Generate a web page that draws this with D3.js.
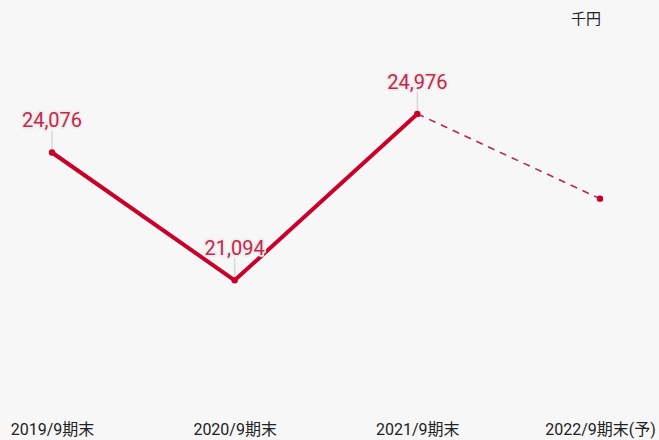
<!DOCTYPE html>
<html>
<head>
<meta charset="utf-8">
<script src="https://cdn.jsdelivr.net/npm/d3@7"></script>
<style>
  html, body { margin: 0; padding: 0; background: #f7f7f7; }
  svg { display: block; }
  text { font-family: Roboto, "Noto Sans CJK JP", sans-serif; }
</style>
</head>
<body>
<div id="chart"></div>
<script>
// Net assets by fiscal period end (thousand yen); last period is a forecast
const categories = ["2019/9期末", "2020/9期末", "2021/9期末", "2022/9期末(予)"];
const values = [24076, 21094, 24976, 23000];
const labelled = [true, true, true, false];
const unitLabel = "千円";

const width = 659, height = 440;
const svg = d3.select("#chart").append("svg")
  .attr("width", width).attr("height", height);

svg.append("rect").attr("width", width).attr("height", height).attr("fill", "#f7f7f7");

const x = d3.scalePoint().domain(categories).range([52, 600]);
const y = d3.scaleLinear().domain([18000, 26000]).range([413, 70]);

const pts = categories.map((c, i) => ({ c, v: values[i], lab: labelled[i] }));
const actual = pts.slice(0, 3);
const forecast = pts.slice(2);

const line = d3.line().x(d => x(d.c)).y(d => y(d.v));

// leader lines from labels to points
const leaders = pts.filter(d => d.lab);
svg.selectAll(".leader").data(leaders).enter().append("line")
  .attr("x1", d => x(d.c)).attr("x2", d => x(d.c))
  .attr("y1", d => y(d.v) - 22).attr("y2", d => y(d.v))
  .attr("stroke", "#d8d8d8").attr("stroke-width", 1.5);

svg.append("path").datum(forecast)
  .attr("d", line).attr("fill", "none")
  .attr("stroke", "#b42a4a").attr("stroke-width", 1.6)
  .attr("stroke-dasharray", "7,6");

svg.append("path").datum(actual)
  .attr("d", line).attr("fill", "none")
  .attr("stroke", "#c8002a").attr("stroke-width", 4)
  .attr("stroke-linejoin", "round");

svg.selectAll(".dot").data(pts).enter().append("circle")
  .attr("cx", d => x(d.c)).attr("cy", d => y(d.v)).attr("r", 3.2)
  .attr("fill", "#c8002a");

// value labels with light halo
svg.selectAll(".val").data(leaders).enter().append("text")
  .attr("x", d => x(d.c)).attr("y", d => y(d.v) - 25)
  .attr("text-anchor", "middle")
  .attr("font-size", 20)
  .attr("fill", "#c0294a")
  .attr("stroke", "#ececec").attr("stroke-width", 3.5)
  .attr("stroke-linejoin", "round")
  .attr("paint-order", "stroke")
  .text(d => d3.format(",")(d.v));

// x-axis category labels
const xAxis = d3.axisBottom(x).tickSize(0).tickPadding(0);
const gx = svg.append("g").attr("transform", "translate(0,424)").call(xAxis);
gx.select(".domain").remove();
gx.selectAll("text")
  .attr("font-size", 16)
  .attr("fill", "#222")
  .attr("font-family", "Roboto, 'Noto Sans CJK JP', sans-serif")
  .attr("dy", "0.7em");

svg.append("text").attr("x", 586).attr("y", 24)
  .attr("text-anchor", "middle").attr("font-size", 15)
  .attr("fill", "#222").text(unitLabel);
</script>
</body>
</html>
